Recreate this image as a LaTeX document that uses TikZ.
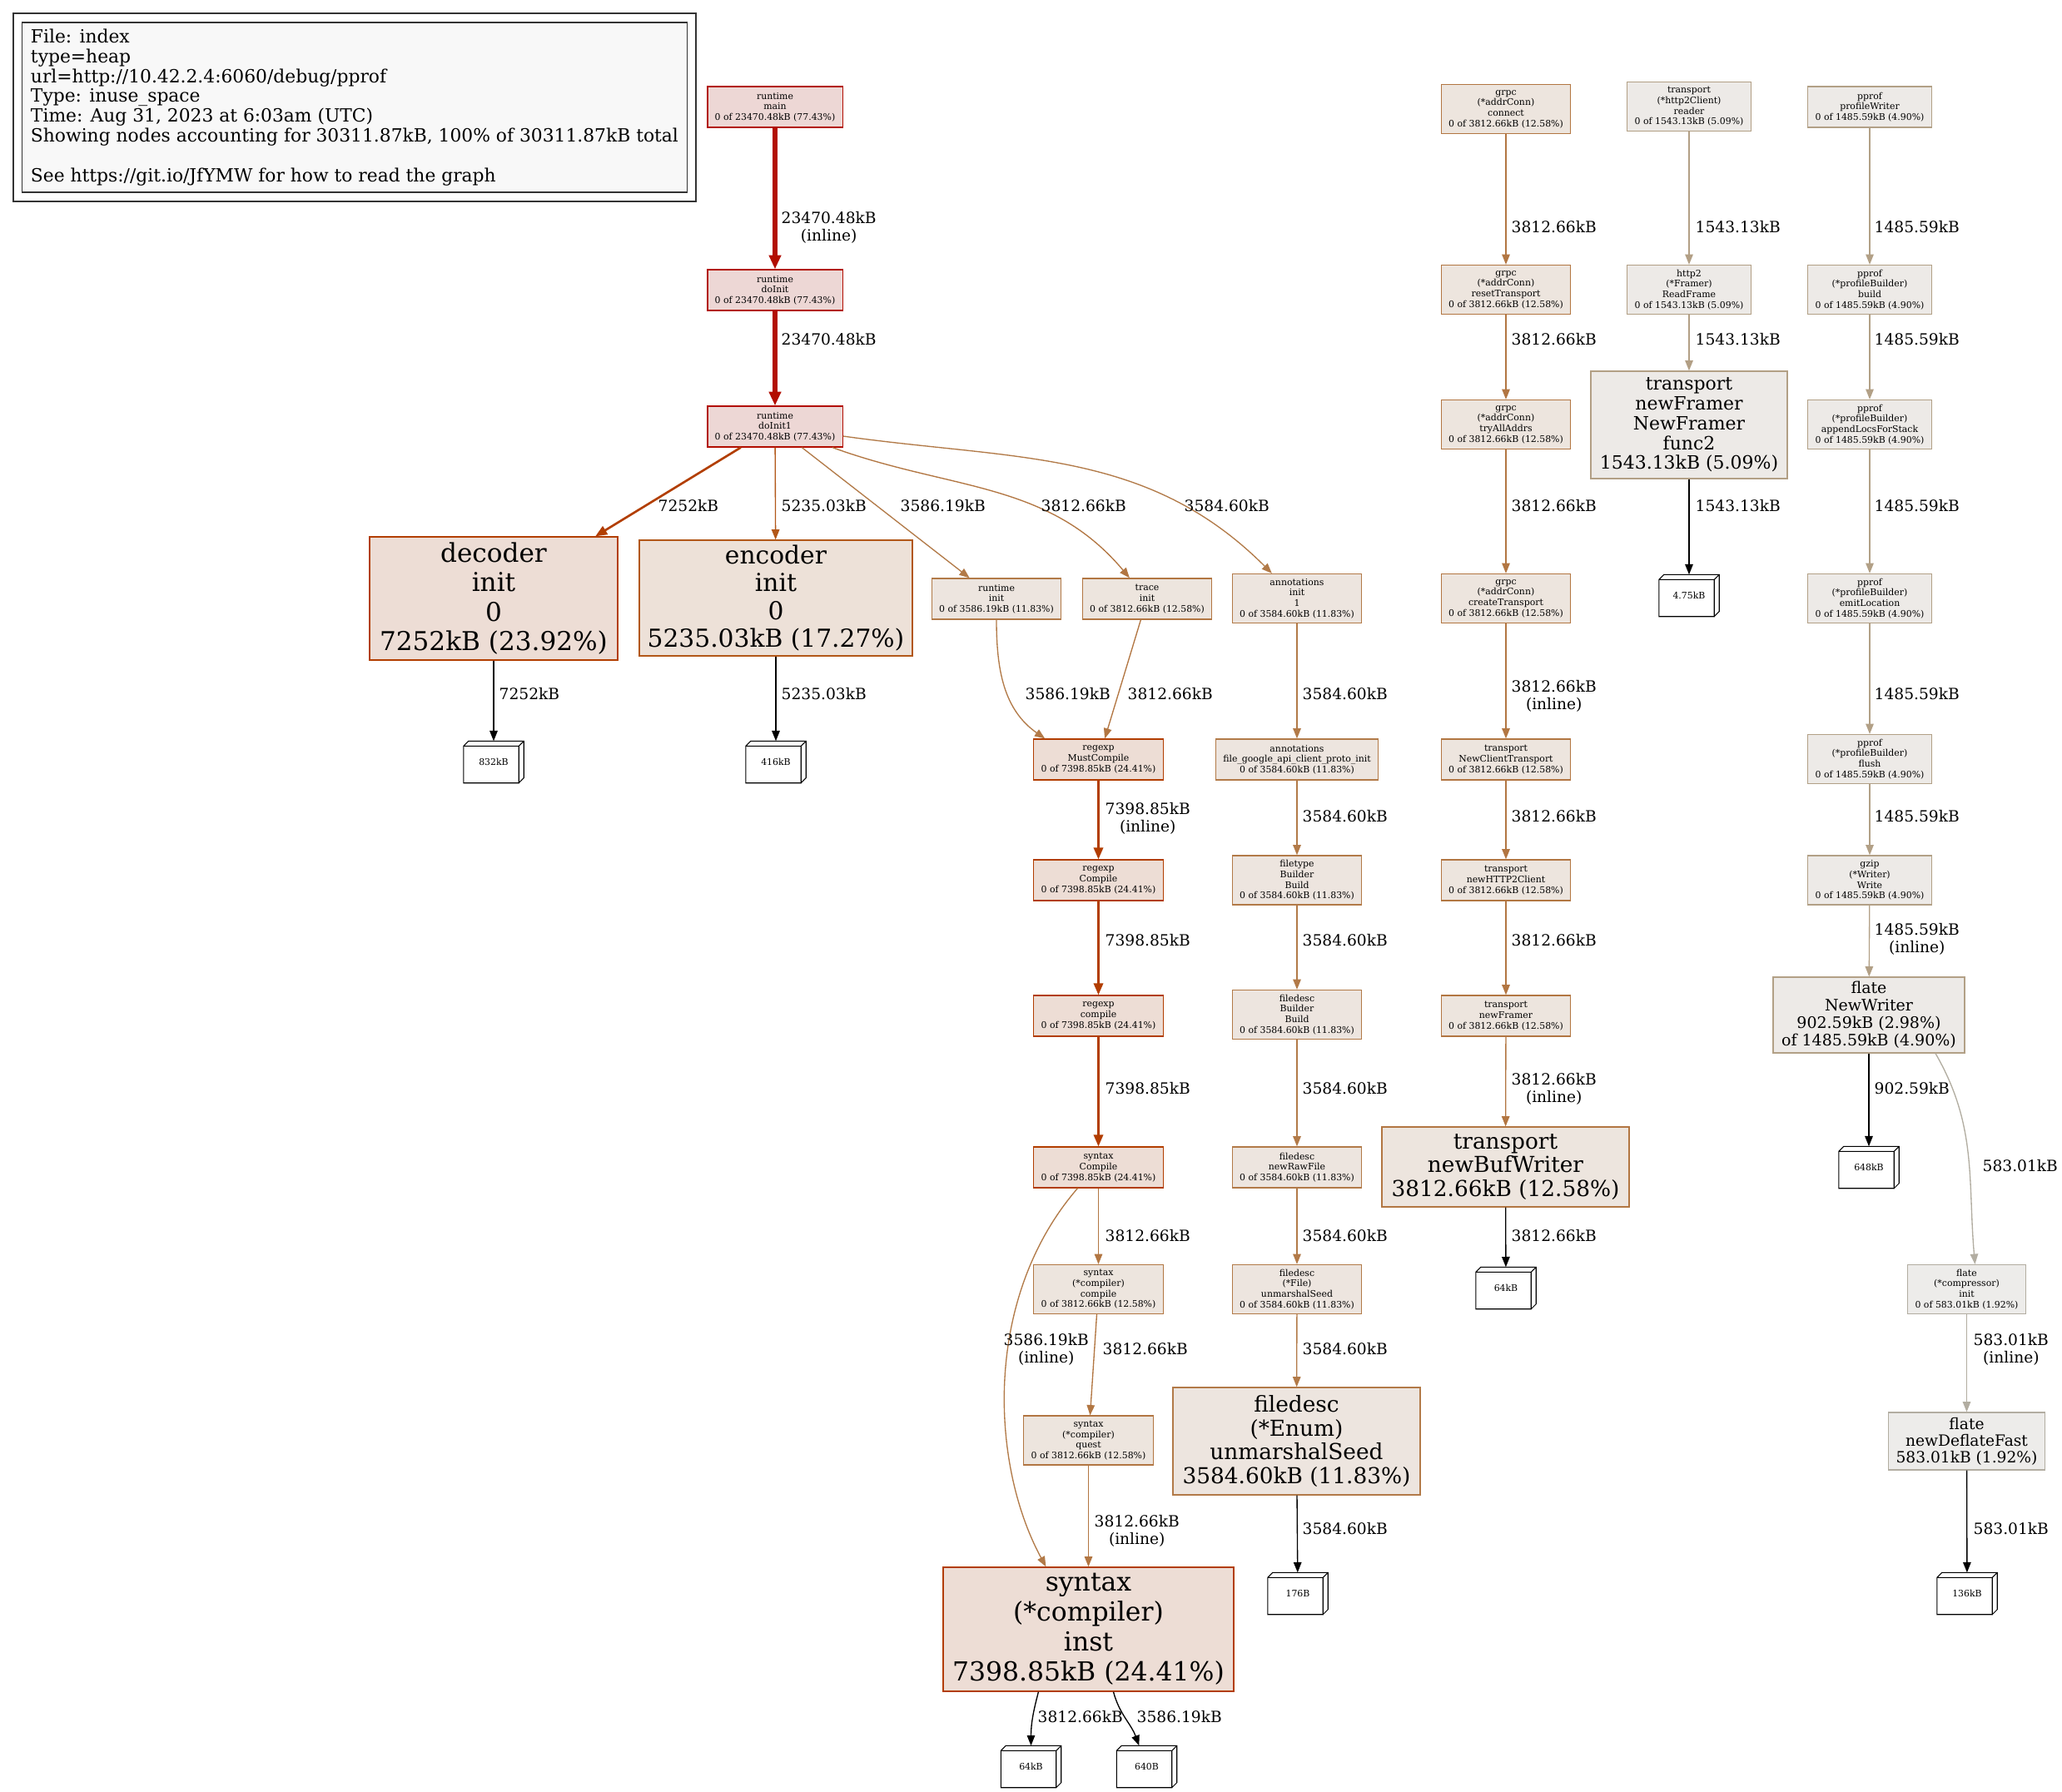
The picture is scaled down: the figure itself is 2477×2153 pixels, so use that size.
\documentclass[tikz,border=0pt]{standalone}
\usepackage{fontspec}
\setmainfont{DejaVu Serif}
\usepackage{tikz}
\usetikzlibrary{arrows.meta,shapes.geometric}
\definecolor{HotLine}{HTML}{B20D00}
\definecolor{HotFill}{HTML}{EDD7D5}
\definecolor{RegexpLine}{HTML}{B23D00}
\definecolor{RegexpFill}{HTML}{EDDDD5}
\definecolor{DecoderLine}{HTML}{B23E00}
\definecolor{EncoderLine}{HTML}{B25718}
\definecolor{EncoderFill}{HTML}{EDE1D8}
\definecolor{GrpcLine}{HTML}{B27642}
\definecolor{GrpcFill}{HTML}{EDE5DE}
\definecolor{AnnoLine}{HTML}{B27A48}
\definecolor{AnnoFill}{HTML}{EDE5DF}
\definecolor{ReaderLine}{HTML}{B29F85}
\definecolor{PprofLine}{HTML}{B2A086}
\definecolor{PaleFill}{HTML}{EDEAE7}
\definecolor{FlateLine}{HTML}{B2ADA1}
\definecolor{FlateFill}{HTML}{EDECEA}
\definecolor{LegendFill}{HTML}{F8F8F8}
\definecolor{LegendLine}{HTML}{333333}

\newcommand{\fsmall}{\fontsize{3.1}{3.6}\selectfont}
\newcommand{\flabel}{\fontsize{5.3}{6}\selectfont}
\newcommand{\flegend}{\fontsize{6.2}{6.8}\selectfont}

\newcommand{\leafbox}[3]{%
  \node[leaf] (#1) at (#2) {#3};
  \draw[line width=0.3pt] (#1.south west) rectangle ([shift={(-1.7pt,-1.7pt)}]#1.north east)
    ([yshift=-1.7pt]#1.north west) -- ([xshift=1.7pt]#1.north west) -- (#1.north east)
    -- ([yshift=1.7pt]#1.south east) -- ([xshift=-1.7pt]#1.south east)
    ([shift={(-1.7pt,-1.7pt)}]#1.north east) -- (#1.north east);
}

\tikzset{
    fn/.style 2 args={draw=#1, fill=#2, line width=0.35pt, align=center, inner xsep=2.5pt, inner ysep=0.5pt, font=\fsmall},
    three/.style={minimum height=0.49cm},
    four/.style={minimum height=0.59cm},
    call/.style={-{Triangle[length=3.5pt,width=2.7pt]}, line width=0.38pt},
    warm/.style={-{Triangle[length=4pt,width=3.2pt]}, line width=0.75pt},
    hot/.style={-{Triangle[length=4.8pt,width=4pt]}, line width=1.5pt, HotLine},
    lbl/.style={anchor=west, align=center, inner sep=0pt, font=\flabel},
    leaf/.style={fill=white, inner sep=0pt, minimum width=0.71cm, minimum height=0.49cm, font=\fsmall}
}

\begin{document}
\begin{tikzpicture}[x=0.01cm, y=-0.01cm]
    \fill[white] (0,0) rectangle (2477,2153);

    \node[draw=LegendLine, fill=LegendFill, double, double distance=2.7pt, line width=0.4pt,
      minimum width=8.09cm, minimum height=2.15cm, align=left, font=\flegend] (legend) at (426,129)
      {File: index\\type=heap\\url=http://10.42.2.4:6060/debug/pprof\\Type: inuse\_space\\Time: Aug 31, 2023 at 6:03am (UTC)\\Showing nodes accounting for 30311.87kB, 100\% of 30311.87kB total\\[6.8pt]See https://git.io/JfYMW for how to read the graph};

    \node[fn={HotLine}{HotFill}, three] (rtmain) at (931,128.5) {runtime\\main\\0 of 23470.48kB (77.43\%)};
    \node[fn={HotLine}{HotFill}, three] (rtdoinit) at (931,348.5) {runtime\\doInit\\0 of 23470.48kB (77.43\%)};
    \node[fn={HotLine}{HotFill}, three] (rtdoinit1) at (931,512.5) {runtime\\doInit1\\0 of 23470.48kB (77.43\%)};
    \node[fn={DecoderLine}{RegexpFill}, minimum width=2.98cm, minimum height=1.48cm, font=\fontsize{8.85}{10}\selectfont] (decoder) at (593,719) {decoder\\init\\0\\7252kB (23.92\%)};
    \node[fn={EncoderLine}{EncoderFill}, minimum width=3.28cm, minimum height=1.39cm, font=\fontsize{8.45}{9.4}\selectfont] (encoder) at (932,718.5) {encoder\\init\\0\\5235.03kB (17.27\%)};
    \node[fn={AnnoLine}{AnnoFill}, three] (rtinit) at (1197,719.5) {runtime\\init\\0 of 3586.19kB (11.83\%)};
    \node[fn={GrpcLine}{GrpcFill}, three] (traceinit) at (1378,719.5) {trace\\init\\0 of 3812.66kB (12.58\%)};
    \node[fn={AnnoLine}{AnnoFill}, four] (annoinit) at (1558,719) {annotations\\init\\1\\0 of 3584.60kB (11.83\%)};

    \node[fn={RegexpLine}{RegexpFill}, three] (mustcompile) at (1319.5,912.5) {regexp\\MustCompile\\0 of 7398.85kB (24.41\%)};
    \node[fn={RegexpLine}{RegexpFill}, three] (recompile) at (1319.5,1057.5) {regexp\\Compile\\0 of 7398.85kB (24.41\%)};
    \node[fn={RegexpLine}{RegexpFill}, three] (relower) at (1319.5,1220.5) {regexp\\compile\\0 of 7398.85kB (24.41\%)};
    \node[fn={RegexpLine}{RegexpFill}, three] (syncompile) at (1319.5,1402.5) {syntax\\Compile\\0 of 7398.85kB (24.41\%)};
    \node[fn={GrpcLine}{GrpcFill}, four] (comcompile) at (1319.5,1549) {syntax\\(*compiler)\\compile\\0 of 3812.66kB (12.58\%)};
    \node[fn={GrpcLine}{GrpcFill}, four] (quest) at (1307.5,1730.5) {syntax\\(*compiler)\\quest\\0 of 3812.66kB (12.58\%)};
    \node[fn={RegexpLine}{RegexpFill}, minimum width=3.49cm, minimum height=1.49cm, font=\fontsize{8.95}{10.2}\selectfont] (inst) at (1307.5,1957.5) {syntax\\(*compiler)\\inst\\7398.85kB (24.41\%)};

    \node[fn={AnnoLine}{AnnoFill}, three] (protoinit) at (1558,912.5) {annotations\\file\_google\_api\_client\_proto\_init\\0 of 3584.60kB (11.83\%)};
    \node[fn={AnnoLine}{AnnoFill}, four] (ftbuild) at (1558,1057.5) {filetype\\Builder\\Build\\0 of 3584.60kB (11.83\%)};
    \node[fn={AnnoLine}{AnnoFill}, four] (fdbuild) at (1558,1219) {filedesc\\Builder\\Build\\0 of 3584.60kB (11.83\%)};
    \node[fn={AnnoLine}{AnnoFill}, three] (rawfile) at (1558,1402.5) {filedesc\\newRawFile\\0 of 3584.60kB (11.83\%)};
    \node[fn={AnnoLine}{AnnoFill}, four] (fileseed) at (1558,1549) {filedesc\\(*File)\\unmarshalSeed\\0 of 3584.60kB (11.83\%)};
    \node[fn={AnnoLine}{AnnoFill}, minimum width=2.97cm, minimum height=1.29cm, font=\fontsize{7.5}{8.1}\selectfont] (enumseed) at (1557.5,1731.5) {filedesc\\(*Enum)\\unmarshalSeed\\3584.60kB (11.83\%)};

    \node[fn={GrpcLine}{GrpcFill}, four] (connect) at (1809,131) {grpc\\(*addrConn)\\connect\\0 of 3812.66kB (12.58\%)};
    \node[fn={GrpcLine}{GrpcFill}, four] (reset) at (1809,348) {grpc\\(*addrConn)\\resetTransport\\0 of 3812.66kB (12.58\%)};
    \node[fn={GrpcLine}{GrpcFill}, four] (tryall) at (1809,510) {grpc\\(*addrConn)\\tryAllAddrs\\0 of 3812.66kB (12.58\%)};
    \node[fn={GrpcLine}{GrpcFill}, four] (create) at (1809,719) {grpc\\(*addrConn)\\createTransport\\0 of 3812.66kB (12.58\%)};
    \node[fn={GrpcLine}{GrpcFill}, three] (newclient) at (1809,912.5) {transport\\NewClientTransport\\0 of 3812.66kB (12.58\%)};
    \node[fn={GrpcLine}{GrpcFill}, three] (newhttp) at (1809,1057.5) {transport\\newHTTP2Client\\0 of 3812.66kB (12.58\%)};
    \node[fn={GrpcLine}{GrpcFill}, three] (framer) at (1809,1220.5) {transport\\newFramer\\0 of 3812.66kB (12.58\%)};
    \node[fn={GrpcLine}{GrpcFill}, minimum width=2.97cm, minimum height=0.96cm, font=\fontsize{7.5}{8.1}\selectfont] (bufwriter) at (1808.5,1402) {transport\\newBufWriter\\3812.66kB (12.58\%)};

    \node[fn={ReaderLine}{PaleFill}, four] (reader) at (2029,128) {transport\\(*http2Client)\\reader\\0 of 1543.13kB (5.09\%)};
    \node[fn={ReaderLine}{PaleFill}, four] (readframe) at (2029,348) {http2\\(*Framer)\\ReadFrame\\0 of 1543.13kB (5.09\%)};
    \node[fn={ReaderLine}{PaleFill}, minimum width=2.36cm, minimum height=1.29cm, font=\fontsize{6.25}{6.75}\selectfont] (func2) at (2029,510.5) {transport\\newFramer\\NewFramer\\func2\\1543.13kB (5.09\%)};

    \node[fn={PprofLine}{PaleFill}, three] (profwriter) at (2246,128.5) {pprof\\profileWriter\\0 of 1485.59kB (4.90\%)};
    \node[fn={PprofLine}{PaleFill}, four] (pbuild) at (2246,348) {pprof\\(*profileBuilder)\\build\\0 of 1485.59kB (4.90\%)};
    \node[fn={PprofLine}{PaleFill}, four] (appendlocs) at (2246,510) {pprof\\(*profileBuilder)\\appendLocsForStack\\0 of 1485.59kB (4.90\%)};
    \node[fn={PprofLine}{PaleFill}, four] (emitloc) at (2246,719) {pprof\\(*profileBuilder)\\emitLocation\\0 of 1485.59kB (4.90\%)};
    \node[fn={PprofLine}{PaleFill}, four] (pflush) at (2246,912) {pprof\\(*profileBuilder)\\flush\\0 of 1485.59kB (4.90\%)};
    \node[fn={PprofLine}{PaleFill}, four] (gzwrite) at (2246,1057.5) {gzip\\(*Writer)\\Write\\0 of 1485.59kB (4.90\%)};
    \node[fn={PprofLine}{PaleFill}, minimum width=2.30cm, minimum height=0.91cm, font=\fontsize{5.4}{6}\selectfont] (newwriter) at (2245,1219.5) {flate\\NewWriter\\902.59kB (2.98\%)\\of 1485.59kB (4.90\%)};
    \node[fn={FlateLine}{FlateFill}, four] (compinit) at (2362.5,1549) {flate\\(*compressor)\\init\\0 of 583.01kB (1.92\%)};
    \node[fn={FlateLine}{FlateFill}, minimum width=1.85cm, minimum height=0.69cm, font=\fontsize{5.3}{5.7}\selectfont] (deflate) at (2362.5,1731.5) {flate\\newDeflateFast\\583.01kB (1.92\%)};

    \leafbox{c832}{593,915.5}{832kB}
    \leafbox{c416}{932,915.5}{416kB}
    \leafbox{c64a}{1238.5,2122.5}{64kB}
    \leafbox{c640}{1377.5,2122.5}{640B}
    \leafbox{c176}{1559,1914.5}{176B}
    \leafbox{c64b}{1809,1547.5}{64kB}
    \leafbox{c475}{2029,715.5}{4.75kB}
    \leafbox{c648}{2245,1402.5}{648kB}
    \leafbox{c136}{2363,1914.5}{136kB}

    \draw[hot] (rtmain) -- (rtdoinit);
    \draw[hot] (rtdoinit) -- (rtdoinit1);
    \draw[warm, DecoderLine] (rtdoinit1) -- (decoder);
    \draw[call, EncoderLine] (rtdoinit1) -- (encoder);
    \draw[call, AnnoLine] (rtdoinit1) -- (rtinit);
    \draw[call, GrpcLine] (rtdoinit1) to[out=-20, in=130] (traceinit);
    \draw[call, AnnoLine] (rtdoinit1) to[out=-8, in=135] (annoinit);
    \draw[call, black] (decoder) -- (c832);
    \draw[call, black] (encoder) -- (c416);
    \draw[call, AnnoLine] (rtinit) to[out=-90, in=145] ([xshift=0.14cm]mustcompile.north west);
    \draw[call, GrpcLine] (traceinit) -- (mustcompile);
    \draw[warm, RegexpLine] (mustcompile) -- (recompile);
    \draw[warm, RegexpLine] (recompile) -- (relower);
    \draw[warm, RegexpLine] (relower) -- (syncompile);
    \draw[call, GrpcLine] (syncompile) -- (comcompile);
    \draw[call, AnnoLine] ([xshift=-0.25cm]syncompile.south) .. controls (1180,1560) and (1190,1760) .. ([xshift=-0.51cm]inst.north);
    \draw[call, GrpcLine] (comcompile) -- (quest);
    \draw[call, GrpcLine] (quest) -- (inst);
    \draw[call, black] ([xshift=-0.6cm]inst.south) to[out=-105, in=90] (c64a);
    \draw[call, black] ([xshift=0.3cm]inst.south) to[out=-75, in=110] (c640);

    \draw[call, AnnoLine] (annoinit) -- (protoinit);
    \draw[call, AnnoLine] (protoinit) -- (ftbuild);
    \draw[call, AnnoLine] (ftbuild) -- (fdbuild);
    \draw[call, AnnoLine] (fdbuild) -- (rawfile);
    \draw[call, AnnoLine] (rawfile) -- (fileseed);
    \draw[call, AnnoLine] (fileseed) -- (enumseed);
    \draw[call, black] (enumseed) -- (c176);

    \draw[call, GrpcLine] (connect) -- (reset);
    \draw[call, GrpcLine] (reset) -- (tryall);
    \draw[call, GrpcLine] (tryall) -- (create);
    \draw[call, GrpcLine] (create) -- (newclient);
    \draw[call, GrpcLine] (newclient) -- (newhttp);
    \draw[call, GrpcLine] (newhttp) -- (framer);
    \draw[call, GrpcLine] (framer) -- (bufwriter);
    \draw[call, black] (bufwriter) -- (c64b);

    \draw[call, ReaderLine] (reader) -- (readframe);
    \draw[call, ReaderLine] (readframe) -- (func2);
    \draw[call, black] (func2) -- (c475);

    \draw[call, PprofLine] (profwriter) -- (pbuild);
    \draw[call, PprofLine] (pbuild) -- (appendlocs);
    \draw[call, PprofLine] (appendlocs) -- (emitloc);
    \draw[call, PprofLine] (emitloc) -- (pflush);
    \draw[call, PprofLine] (pflush) -- (gzwrite);
    \draw[call, PprofLine] (gzwrite) -- (newwriter);
    \draw[call, black] (newwriter) -- (c648);
    \draw[call, FlateLine] ([xshift=0.8cm]newwriter.south) to[out=-60, in=95] ([xshift=0.1cm]compinit.north);
    \draw[call, FlateLine] (compinit) -- (deflate);
    \draw[call, black] (deflate) -- (c136);

    \node[lbl] (lmain) at (938,273) {23470.48kB\\(inline)};
    \node[lbl] (ldoinit) at (938,408) {23470.48kB};
    \node[lbl] (ldecoder) at (790,608) {7252kB};
    \node[lbl] (lencoder) at (938,608) {5235.03kB};
    \node[lbl] (lrtinit) at (1081,608) {3586.19kB};
    \node[lbl] (ltrace) at (1250,608) {3812.66kB};
    \node[lbl] (lanno) at (1422,608) {3584.60kB};
    \node[lbl] (lc832) at (599,834) {7252kB};
    \node[lbl] (lc416) at (938,834) {5235.03kB};
    \node[lbl] (lmust1) at (1231,834) {3586.19kB};
    \node[lbl] (lmust2) at (1354,834) {3812.66kB};
    \node[lbl] (lcomp1) at (1327,983) {7398.85kB\\(inline)};
    \node[lbl] (lcomp2) at (1327,1130) {7398.85kB};
    \node[lbl] (lcomp3) at (1327,1308) {7398.85kB};
    \node[lbl] (lcomp4) at (1327,1485) {3812.66kB};
    \node[lbl] (linst1) at (1205,1621) {3586.19kB\\(inline)};
    \node[lbl] (lquest) at (1324,1621) {3812.66kB};
    \node[lbl] (linst2) at (1314,1839) {3812.66kB\\(inline)};
    \node[lbl] (lc64a) at (1246,2063) {3812.66kB};
    \node[lbl] (lc640) at (1365,2063) {3586.19kB};

    \node[lbl] (lproto) at (1564,834) {3584.60kB};
    \node[lbl] (lftbuild) at (1564,981) {3584.60kB};
    \node[lbl] (lfdbuild) at (1564,1130) {3584.60kB};
    \node[lbl] (lrawfile) at (1564,1308) {3584.60kB};
    \node[lbl] (lfileseed) at (1564,1485) {3584.60kB};
    \node[lbl] (lenumseed) at (1564,1621) {3584.60kB};
    \node[lbl] (lc176) at (1564,1837) {3584.60kB};

    \node[lbl] (lreset) at (1815,273) {3812.66kB};
    \node[lbl] (ltryall) at (1815,408) {3812.66kB};
    \node[lbl] (lcreate) at (1815,608) {3812.66kB};
    \node[lbl] (lnewclient) at (1815,836) {3812.66kB\\(inline)};
    \node[lbl] (lnewhttp) at (1815,981) {3812.66kB};
    \node[lbl] (lframer) at (1815,1130) {3812.66kB};
    \node[lbl] (lbufwriter) at (1815,1308) {3812.66kB\\(inline)};
    \node[lbl] (lc64b) at (1815,1485) {3812.66kB};

    \node[lbl] (lreadframe) at (2036,273) {1543.13kB};
    \node[lbl] (lfunc2) at (2036,408) {1543.13kB};
    \node[lbl] (lc475) at (2036,608) {1543.13kB};

    \node[lbl] (lpbuild) at (2251,273) {1485.59kB};
    \node[lbl] (lappend) at (2251,408) {1485.59kB};
    \node[lbl] (lemit) at (2251,608) {1485.59kB};
    \node[lbl] (lflush) at (2251,834) {1485.59kB};
    \node[lbl] (lgzwrite) at (2251,981) {1485.59kB};
    \node[lbl] (lnewwriter) at (2251,1128) {1485.59kB\\(inline)};
    \node[lbl] (lc648) at (2251,1308) {902.59kB};
    \node[lbl] (lcompinit) at (2381,1401) {583.01kB};
    \node[lbl] (ldeflate) at (2370,1621) {583.01kB\\(inline)};
    \node[lbl] (lc136) at (2370,1837) {583.01kB};
\end{tikzpicture}
\end{document}
